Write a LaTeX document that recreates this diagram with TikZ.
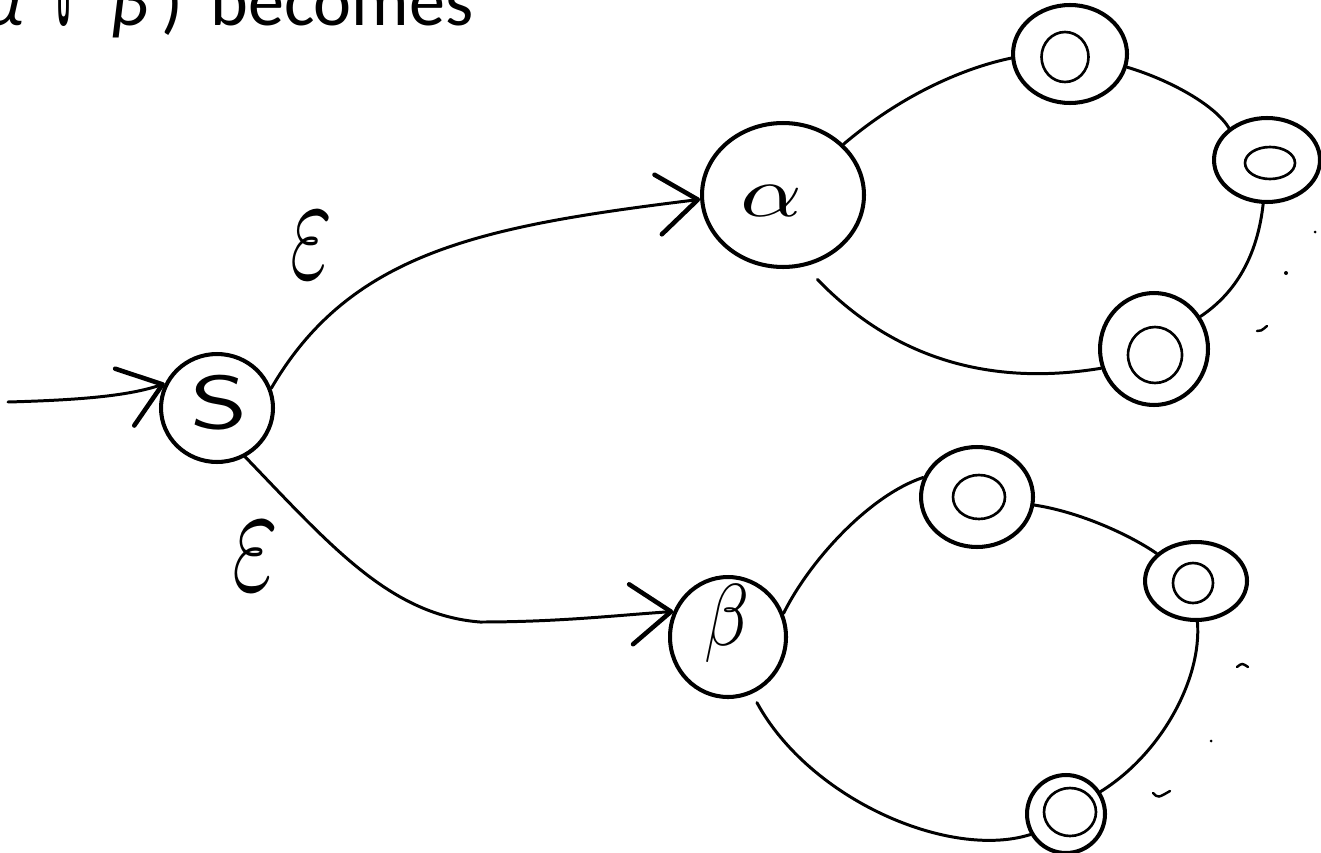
\documentclass[tikz,border=0pt]{standalone}
\usepackage{fontspec}
\setmainfont{Carlito}
\newfontfamily\symfont{DejaVu Sans}
\usepackage{graphicx}
\usetikzlibrary{shapes.geometric,arrows.meta}
\begin{document}
\begin{tikzpicture}[x=0.02cm,y=-0.02cm,
  state/.style={draw,ellipse,line width=2.3pt,inner sep=0pt},
  acc/.style={draw,ellipse,line width=1.5pt,inner sep=0pt},
  conn/.style={line width=1.7pt,line cap=round},
  arr/.style={-{Straight Barb[length=8mm,width=12mm,line width=2.6pt,round]}},
  lbl/.style={inner sep=0pt},
  big/.style={font=\fontsize{41}{49}\selectfont},
  strokemark/.style={line width=1.4pt,line cap=round}]
\useasboundingbox (0,0) rectangle (1321,852);
\clip (0,0) rectangle (1321,852);

% heading text (cut at top and left, as in the reference)
\node[lbl,big,anchor=base east] (ta) at (24,26) {\itshape α};
\node[lbl,anchor=base west] (tc) at (55,26) {\resizebox{0.34cm}{0.8cm}{\symfont\bfseries ∪}};
\node[lbl,big,anchor=base west] (tb) at (110,26) {\itshape β};
\node[lbl,big,anchor=base west] (tp) at (161,26) {)};
\node[lbl,big,anchor=base west] (tt) at (210,26) {becomes};

% states
\node[state,minimum width=2.24cm,minimum height=2.16cm] (S) at (217,408) {};
\node[state,minimum width=3.24cm,minimum height=2.88cm] (A) at (783,195) {};
\node[state,minimum width=2.28cm,minimum height=1.96cm] (A1) at (1070,54) {};
\node[acc,minimum width=0.94cm,minimum height=1.0cm] (A1i) at (1065,57) {};
\node[state,minimum width=2.12cm,minimum height=1.68cm] (A2) at (1267,160) {};
\node[acc,minimum width=1.0cm,minimum height=0.64cm] (A2i) at (1270,163) {};
\node[state,minimum width=2.16cm,minimum height=2.24cm] (A3) at (1154,349) {};
\node[acc,minimum width=1.08cm,minimum height=1.12cm] (A3i) at (1155,355) {};
\node[state,minimum width=2.32cm,minimum height=2.4cm] (B) at (728,637) {};
\node[state,minimum width=2.24cm,minimum height=2.0cm] (B1) at (977,497) {};
\node[acc,minimum width=1.04cm,minimum height=0.88cm] (B1i) at (979,497) {};
\node[state,minimum width=2.04cm,minimum height=1.56cm] (B2) at (1196,581) {};
\node[acc,minimum width=0.8cm,minimum height=0.8cm] (B2i) at (1193,583) {};
\node[state,minimum width=1.56cm,minimum height=1.56cm] (B3) at (1066,814) {};
\node[acc,minimum width=1.04cm,minimum height=0.96cm] (B3i) at (1070,812) {};

% labels
\node[lbl] (Slbl) at (219,403) {\resizebox*{1.15cm}{1.1cm}{\sffamily S}};
\node[lbl] (Albl) at (771,201) {\resizebox*{1.24cm}{0.62cm}{$\alpha$}};
\node[lbl] (Blbl) at (727,624) {\resizebox*{0.9cm}{1.56cm}{$\beta$}};
\node[lbl] (e1) at (311,245) {\resizebox*{0.84cm}{1.32cm}{$\varepsilon$}};
\node[lbl] (e2) at (255,556) {\resizebox*{0.92cm}{1.36cm}{$\varepsilon$}};

% connectors
\coordinate (in0) at (8,402);
\draw[conn,arr] (in0) .. controls (80,400) and (128,396) .. (S.155);
\draw[conn,arr] (S.20) .. controls (351,251) and (484,226) .. (A.183);
\draw[conn,arr] (S.-60) .. controls (330,545) and (390,615) .. (480,622)
                 .. controls (560,622) and (620,615) .. (B.155);
\draw[conn] (A.40) .. controls (905,92) and (968,67) .. (A1.184);
\draw[conn] (A1.-13) .. controls (1170,80) and (1215,105) .. (A2.140);
\draw[conn] (A2.265) .. controls (1258,250) and (1240,290) .. (A3.35);
\draw[conn,shorten >=0.36cm] (A3.200) .. controls (1000,385) and (900,365) .. (A.-73);
\draw[conn] (B.23) .. controls (810,560) and (870,495) .. (B1.160);
\draw[conn] (B1.-8) .. controls (1080,512) and (1130,535) .. (B2.145);
\draw[conn] (B2.-88) .. controls (1202,680) and (1160,755) .. (B3.33);
\draw[conn,shorten >=0.2cm] (B3.210) .. controls (950,860) and (810,800) .. (B.-67);

% stray pen marks
\fill (1315,232) circle[radius=0.03cm];
\fill (1286,273) circle[radius=0.04cm];
\draw[strokemark] (1257,331) .. controls (1261,331) .. (1267,326);
\draw[strokemark] (1237,667) .. controls (1242,663) .. (1248,667);
\fill (1211,741) circle[radius=0.03cm];
\draw[strokemark] (1153,793) .. controls (1158,798) .. (1170,791);
\end{tikzpicture}
\end{document}
